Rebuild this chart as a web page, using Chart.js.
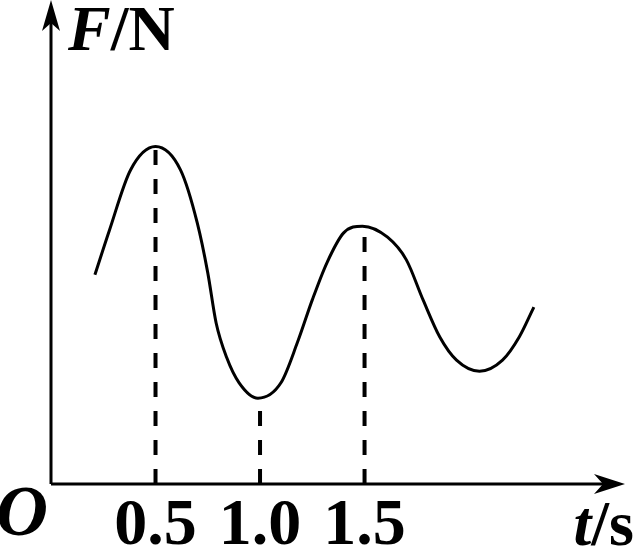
<!DOCTYPE html>
<html lang="en">
<head>
<meta charset="UTF-8">
<title>F-t graph</title>
<script src="https://cdn.jsdelivr.net/npm/chart.js@4.4.0/dist/chart.umd.min.js"></script>
<style>
  body { margin: 0; background: #fff; }
  #wrap { width: 635px; height: 550px; }
</style>
</head>
<body>
<div id="wrap"><canvas id="ft_chart" width="635" height="550"></canvas></div>
<script>
// curve points (t in s, F in arbitrary units)
const curveT = [0.21, 0.28, 0.38, 0.50, 0.62, 0.70, 0.75, 0.79, 0.84, 0.90, 0.99, 1.10, 1.18, 1.25, 1.32, 1.40, 1.49, 1.61, 1.70, 1.78, 1.86, 1.94, 2.05, 2.16, 2.24, 2.31];
const curveF = [4.34, 5.27, 6.51, 7.00, 6.51, 5.41, 4.38, 3.34, 2.63, 2.10, 1.78, 2.10, 2.95, 3.82, 4.59, 5.21, 5.35, 5.12, 4.65, 3.82, 3.05, 2.57, 2.34, 2.57, 3.05, 3.67];

// dashed guide lines drop from the extrema down to the t axis
const markT = [0.5, 1.0, 1.5];
const markF = [7.00, 1.78, 5.35];
const tickLabels = ['0.5', '1.0', '1.5'];

const xMax = 2.746;
const yMax = 10;

var datasets = [{
    data: curveT.map((t, i) => ({x: t, y: curveF[i]})),
    borderColor: '#000',
    borderWidth: 3,
    pointRadius: 0,
    cubicInterpolationMode: 'monotone',
    fill: false
}];
for (var i = 0; i < markT.length; i++) {
    datasets.push({
        data: [{x: markT[i], y: 0}, {x: markT[i], y: markF[i]}],
        borderColor: '#000',
        borderWidth: 4,
        borderDash: [15, 14],
        pointRadius: 0,
        fill: false
    });
}

const serif = '"Liberation Serif", "Times New Roman", serif';

// axes with arrows, and the text labels
const axesPlugin = {
    id: 'axes',
    afterDatasetsDraw(chart) {
        const ctx = chart.ctx;
        const xs = chart.scales.x, ys = chart.scales.y;
        const x0 = xs.getPixelForValue(0);
        const y0 = ys.getPixelForValue(0);
        const xEnd = xs.getPixelForValue(xMax);
        const yEnd = ys.getPixelForValue(yMax);
        ctx.save();
        ctx.strokeStyle = '#000';
        ctx.fillStyle = '#000';
        ctx.lineWidth = 3;
        ctx.beginPath();
        ctx.moveTo(x0, y0);
        ctx.lineTo(xEnd - 15, y0);
        ctx.moveTo(x0, y0);
        ctx.lineTo(x0, yEnd + 15);
        ctx.stroke();

        // x arrow head
        ctx.beginPath();
        ctx.moveTo(xEnd, y0);
        ctx.lineTo(xEnd - 31, y0 - 10);
        ctx.lineTo(xEnd - 22, y0);
        ctx.lineTo(xEnd - 31, y0 + 10);
        ctx.closePath();
        ctx.fill();
        // y arrow head
        ctx.beginPath();
        ctx.moveTo(x0, yEnd - 2);
        ctx.lineTo(x0 - 9, yEnd + 29);
        ctx.lineTo(x0, yEnd + 21);
        ctx.lineTo(x0 + 9, yEnd + 29);
        ctx.closePath();
        ctx.fill();

        ctx.textBaseline = 'alphabetic';
        ctx.font = 'bold 66px ' + serif;
        ctx.textAlign = 'center';
        for (var i = 0; i < markT.length; i++) {
            ctx.fillText(tickLabels[i], xs.getPixelForValue(markT[i]), 544);
        }

        ctx.textAlign = 'left';
        ctx.font = 'italic bold 72px ' + serif;
        ctx.fillText('O', -4, 535);

        ctx.font = 'italic bold 64px ' + serif;
        ctx.fillText('F', 68, 50);
        var w = ctx.measureText('F').width;
        ctx.font = 'bold 64px ' + serif;
        ctx.fillText('/N', 68 + w, 50);

        ctx.textAlign = 'right';
        ctx.font = 'bold 64px ' + serif;
        ctx.fillText('/s', 634, 545);
        var ws = ctx.measureText('/s').width;
        ctx.font = 'italic bold 64px ' + serif;
        ctx.fillText('t', 634 - ws, 545);
        ctx.restore();
    }
};

var chart = new Chart(document.getElementById('ft_chart').getContext('2d'), {
    type: 'line',
    data: { datasets: datasets },
    options: {
        responsive: false,
        animation: false,
        devicePixelRatio: 1,
        layout: { padding: { left: 51, right: 10, top: 2, bottom: 66 } },
        scales: {
            x: { type: 'linear', min: 0, max: xMax, display: false },
            y: { type: 'linear', min: 0, max: yMax, display: false }
        },
        plugins: {
            legend: { display: false },
            tooltip: { enabled: false }
        }
    },
    plugins: [axesPlugin]
});
</script>
</body>
</html>
